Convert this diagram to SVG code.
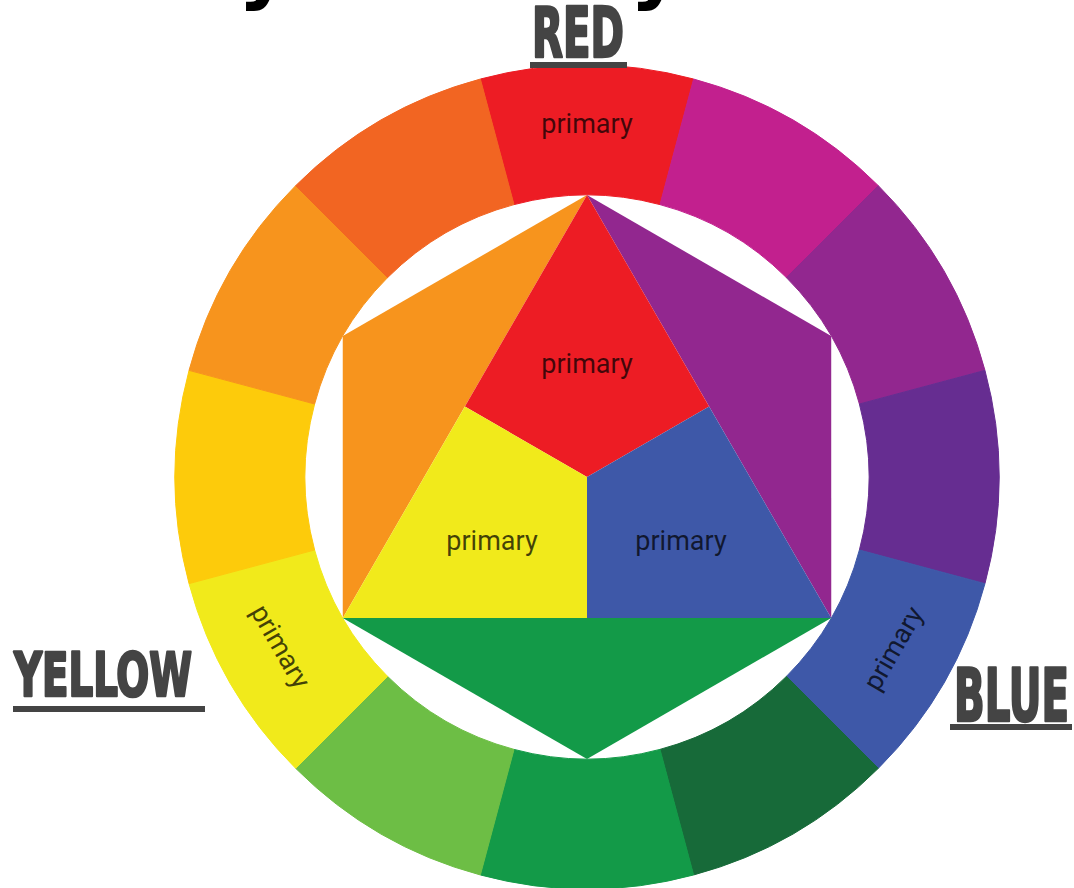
<svg xmlns="http://www.w3.org/2000/svg" width="1074" height="888" viewBox="0 0 1074 888">
<style>
.lbl{font-family:Roboto,"Liberation Sans",sans-serif;font-size:27px;fill:#000;fill-opacity:0.72;text-anchor:middle}
.big{font-family:"Liberation Sans Narrow","DejaVu Sans Condensed","Liberation Sans",sans-serif;font-weight:bold;fill:#444444;stroke:#444444;stroke-width:2.6;stroke-linejoin:round}
.ul{fill:#444444}
.seg{stroke-width:1}
.frag{font-family:"DejaVu Sans",sans-serif;font-weight:bold;font-size:80px;fill:#000}
</style>
<rect width="1074" height="888" fill="#ffffff"/>
<g id="title-fragment">
<text class="frag" x="238" y="-6">y</text>
<text class="frag" x="630" y="-6">y</text>
</g>
<g id="ring">
<path id="seg-red" class="seg" fill="#ED1C24" stroke="#ED1C24" d="M480.37 79.04 A412 412 0 0 1 693.63 79.04 L659.99 204.61 A282 282 0 0 0 514.01 204.61 Z"/>
<path id="seg-red-violet" class="seg" fill="#C2208E" stroke="#C2208E" d="M693.63 79.04 A412 412 0 0 1 878.33 185.67 L786.40 277.60 A282 282 0 0 0 659.99 204.61 Z"/>
<path id="seg-violet" class="seg" fill="#92278F" stroke="#92278F" d="M878.33 185.67 A412 412 0 0 1 984.96 370.37 L859.39 404.01 A282 282 0 0 0 786.40 277.60 Z"/>
<path id="seg-blue-violet" class="seg" fill="#662D91" stroke="#662D91" d="M984.96 370.37 A412 412 0 0 1 984.96 583.63 L859.39 549.99 A282 282 0 0 0 859.39 404.01 Z"/>
<path id="seg-blue" class="seg" fill="#3E58A8" stroke="#3E58A8" d="M984.96 583.63 A412 412 0 0 1 878.33 768.33 L786.40 676.40 A282 282 0 0 0 859.39 549.99 Z"/>
<path id="seg-blue-green" class="seg" fill="#176A39" stroke="#176A39" d="M878.33 768.33 A412 412 0 0 1 693.63 874.96 L659.99 749.39 A282 282 0 0 0 786.40 676.40 Z"/>
<path id="seg-green" class="seg" fill="#139A48" stroke="#139A48" d="M693.63 874.96 A412 412 0 0 1 480.37 874.96 L514.01 749.39 A282 282 0 0 0 659.99 749.39 Z"/>
<path id="seg-yellow-green" class="seg" fill="#6DBE45" stroke="#6DBE45" d="M480.37 874.96 A412 412 0 0 1 295.67 768.33 L387.60 676.40 A282 282 0 0 0 514.01 749.39 Z"/>
<path id="seg-yellow" class="seg" fill="#F1EA1B" stroke="#F1EA1B" d="M295.67 768.33 A412 412 0 0 1 189.04 583.63 L314.61 549.99 A282 282 0 0 0 387.60 676.40 Z"/>
<path id="seg-yellow-orange" class="seg" fill="#FDCB0B" stroke="#FDCB0B" d="M189.04 583.63 A412 412 0 0 1 189.04 370.37 L314.61 404.01 A282 282 0 0 0 314.61 549.99 Z"/>
<path id="seg-orange" class="seg" fill="#F7941D" stroke="#F7941D" d="M189.04 370.37 A412 412 0 0 1 295.67 185.67 L387.60 277.60 A282 282 0 0 0 314.61 404.01 Z"/>
<path id="seg-red-orange" class="seg" fill="#F26522" stroke="#F26522" d="M295.67 185.67 A412 412 0 0 1 480.37 79.04 L514.01 204.61 A282 282 0 0 0 387.60 277.60 Z"/>
</g>
<g id="hexagon">
<polygon id="tri-orange" fill="#F7941D" points="587,195 342.78,336 342.78,618"/>
<polygon id="tri-violet" fill="#92278F" points="587,195 831.22,336 831.22,618"/>
<polygon id="tri-green" fill="#139A48" points="342.78,618 587,759 831.22,618"/>
<polygon id="quad-red" fill="#ED1C24" points="587,195 709.11,406.5 587,477 464.89,406.5"/>
<polygon id="quad-yellow" fill="#F1EA1B" points="342.78,618 464.89,406.5 587,477 587,618"/>
<polygon id="quad-blue" fill="#3E58A8" points="831.22,618 587,618 587,477 709.11,406.5"/>
</g>
<g id="labels">
<text class="lbl" x="587" y="133">primary</text>
<text class="lbl" x="587" y="373">primary</text>
<text class="lbl" x="492" y="550">primary</text>
<text class="lbl" x="681" y="550">primary</text>
<text class="lbl" transform="translate(278,648) rotate(60)" x="0" y="6">primary</text>
<text class="lbl" transform="translate(896,650) rotate(-60)" x="0" y="6">primary</text>
</g>
<g id="label-red">
<text class="big" x="532" y="57" font-size="69" textLength="92" lengthAdjust="spacingAndGlyphs">RED</text>
<rect class="ul" x="530" y="62" width="97" height="6"/>
</g>
<g id="label-yellow">
<text class="big" x="14" y="696" font-size="61" textLength="178" lengthAdjust="spacingAndGlyphs">YELLOW</text>
<rect class="ul" x="13" y="706" width="192" height="6"/>
</g>
<g id="label-blue">
<text class="big" x="954" y="721" font-size="73" textLength="115" lengthAdjust="spacingAndGlyphs">BLUE</text>
<rect class="ul" x="950" y="724" width="122" height="6"/>
</g>
</svg>
